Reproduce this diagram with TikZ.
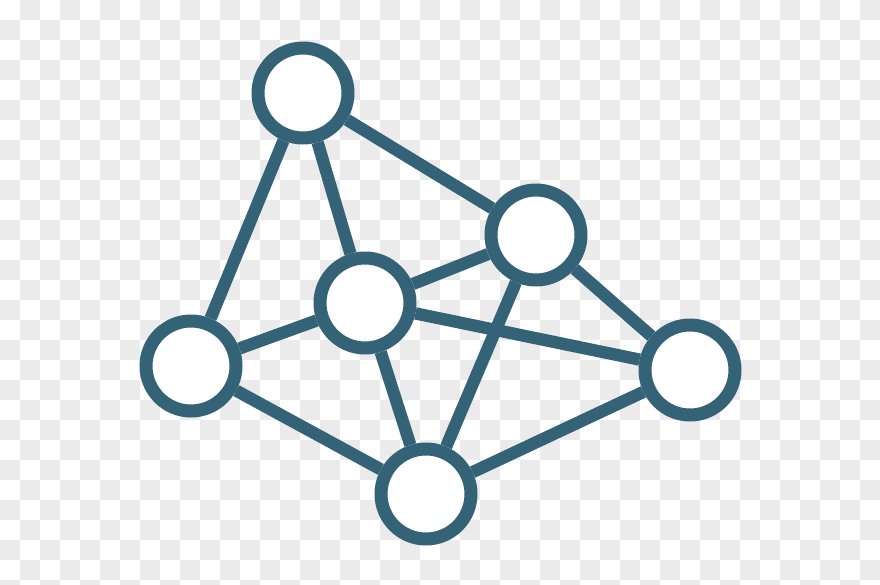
\documentclass[tikz,border=0pt]{standalone}
\definecolor{netblue}{RGB}{52,98,119}
\definecolor{checkgray}{RGB}{235,235,235}
\tikzset{
  hub/.style={circle,draw=netblue,fill=white,line width=7.4pt,minimum size=1.8cm,inner sep=0pt},
  link/.style={draw=netblue,line width=7pt}
}
\begin{document}
\begin{tikzpicture}[x=0.02cm,y=-0.02cm]
  \useasboundingbox (0,0) rectangle (880,585);
  % checkered background
  \begin{scope}
    \clip (0,0) rectangle (880,585);
    \foreach \i in {0,...,43} {
      \foreach \j in {0,...,29} {
        \ifodd\numexpr\i+\j\relax
          \fill[checkgray] ({20*\i},{20*\j}) rectangle ({20*\i+20},{20*\j+20});
        \fi
      }
    }
  \end{scope}
  % the six hubs
  \node[hub] (top) at (303,93) {};
  \node[hub] (upright) at (536,235) {};
  \node[hub] (mid) at (365,303) {};
  \node[hub] (left) at (191,366) {};
  \node[hub] (right) at (690,370) {};
  \node[hub] (bottom) at (426,494) {};
  % links between hubs
  \foreach \a/\b in {top/left,top/mid,top/upright,upright/mid,upright/right,upright/bottom,
                     mid/left,mid/right,mid/bottom,left/bottom,right/bottom} {
    \draw[link] (\a) -- (\b);
  }
\end{tikzpicture}
\end{document}
